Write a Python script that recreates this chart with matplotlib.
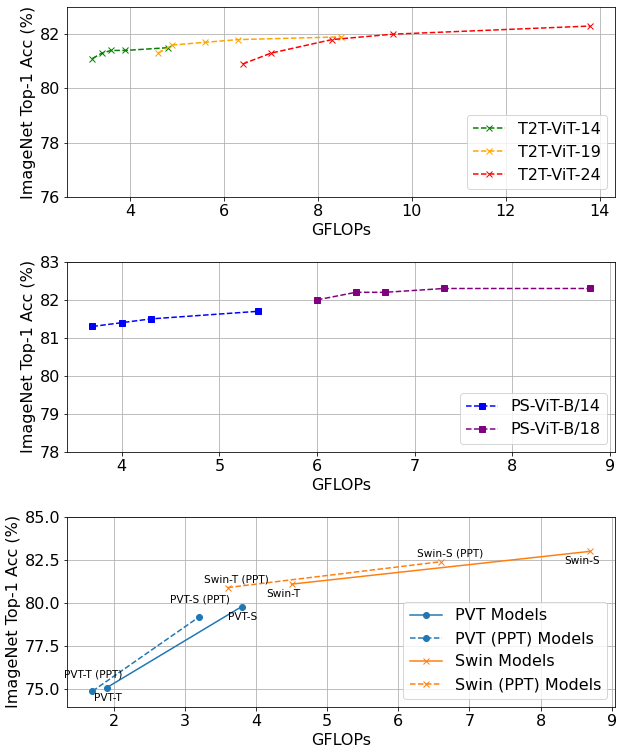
import matplotlib
matplotlib.use("Agg")
import matplotlib.pyplot as plt

# T2T-ViT
t2t14_flops = [3.2, 3.4, 3.6, 3.9, 4.8]
t2t14_acc = [81.1, 81.3, 81.4, 81.4, 81.5]
t2t19_flops = [4.6, 4.9, 5.6, 6.3, 8.5]
t2t19_acc = [81.3, 81.6, 81.7, 81.8, 81.9]
t2t24_flops = [6.4, 7.0, 8.3, 9.6, 13.8]
t2t24_acc = [80.9, 81.3, 81.8, 82.0, 82.3]

# PS-ViT
ps14_flops = [3.7, 4.0, 4.3, 5.4]
ps14_acc = [81.3, 81.4, 81.5, 81.7]
ps18_flops = [6.0, 6.4, 6.7, 7.3, 8.8]
ps18_acc = [82.0, 82.2, 82.2, 82.3, 82.3]

# PVT / Swin
pvt_names = ["PVT-T", "PVT-S"]
pvt_flops = [1.9, 3.8]
pvt_acc = [75.1, 79.8]
pvt_ppt_names = ["PVT-T (PPT)", "PVT-S (PPT)"]
pvt_ppt_flops = [1.7, 3.2]
pvt_ppt_acc = [74.9, 79.2]
swin_names = ["Swin-T", "Swin-S"]
swin_flops = [4.5, 8.7]
swin_acc = [81.1, 83.0]
swin_ppt_names = ["Swin-T (PPT)", "Swin-S (PPT)"]
swin_ppt_flops = [3.6, 6.6]
swin_ppt_acc = [80.9, 82.4]

plt.rcParams['font.size'] = 16

fig, axes = plt.subplots(3, 1, figsize=(619 / 72, 748 / 72), dpi=72)
fig.subplots_adjust(left=0.109, right=0.994, top=0.9906, bottom=0.0552, hspace=0.342)

ax = axes[0]
ax.plot(t2t14_flops, t2t14_acc, '--x', color='green', label='T2T-ViT-14')
ax.plot(t2t19_flops, t2t19_acc, '--x', color='orange', label='T2T-ViT-19')
ax.plot(t2t24_flops, t2t24_acc, '--x', color='red', label='T2T-ViT-24')
ax.set_ylim(76, 83)
ax.set_yticks([76, 78, 80, 82])
ax.legend(loc='lower right')

ax = axes[1]
ax.plot(ps14_flops, ps14_acc, '--s', color='blue', label='PS-ViT-B/14')
ax.plot(ps18_flops, ps18_acc, '--s', color='purple', label='PS-ViT-B/18')
ax.set_ylim(78, 83)
ax.legend(loc='lower right')

ax = axes[2]
ax.plot(pvt_flops, pvt_acc, '-o', color='tab:blue', label='PVT Models')
ax.plot(pvt_ppt_flops, pvt_ppt_acc, '--o', color='tab:blue', label='PVT (PPT) Models')
ax.plot(swin_flops, swin_acc, '-x', color='tab:orange', label='Swin Models')
ax.plot(swin_ppt_flops, swin_ppt_acc, '--x', color='tab:orange', label='Swin (PPT) Models')

# names of the models next to the points
for n, x, y in zip(pvt_names, pvt_flops, pvt_acc):
    ax.annotate(n, (x, y), xytext=(1, -10), textcoords='offset points',
                ha='center', va='center', fontsize=10.5)
for n, x, y in zip(pvt_ppt_names, pvt_ppt_flops, pvt_ppt_acc):
    ax.annotate(n, (x, y), xytext=(1, 17), textcoords='offset points',
                ha='center', va='center', fontsize=10.5)
for n, x, y in zip(swin_names, swin_flops, swin_acc):
    ax.annotate(n, (x, y), xytext=(-8, -10), textcoords='offset points',
                ha='center', va='center', fontsize=10.5)
for n, x, y in zip(swin_ppt_names, swin_ppt_flops, swin_ppt_acc):
    ax.annotate(n, (x, y), xytext=(9, 8), textcoords='offset points',
                ha='center', va='center', fontsize=10.5)

ax.set_ylim(74, 85)
ax.set_yticks([75.0, 77.5, 80.0, 82.5, 85.0])
ax.legend(loc='lower right')

for ax in axes:
    ax.grid(True)
    ax.set_xlabel('GFLOPs')
    ax.set_ylabel('ImageNet Top-1 Acc (%)')

fig.savefig('out.png', dpi=72)
